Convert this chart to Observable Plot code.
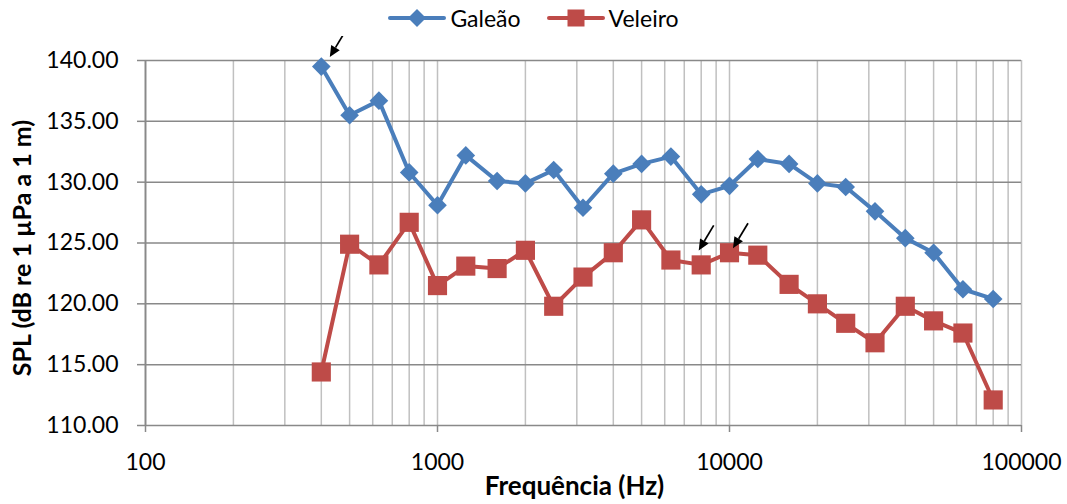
<!DOCTYPE html>
<html>
<head>
<meta charset="utf-8">
<script src="https://cdn.jsdelivr.net/npm/d3@7"></script>
<script src="https://cdn.jsdelivr.net/npm/@observablehq/plot@0.6"></script>
<style>
  body { margin: 0; background: #fff; font-family: Lato, "Open Sans", sans-serif; }
  #legend { height: 36px; display: flex; justify-content: center; align-items: center; gap: 26px; font-size: 23px; color: #000; }
  #legend .item { display: flex; align-items: center; gap: 4px; }
  #legend svg { display: block; }
</style>
</head>
<body>
<div id="legend"></div>
<div id="chart"></div>
<script>
// One-third-octave band centre frequencies (Hz)
const frequencies = [400, 500, 630, 800, 1000, 1250, 1600, 2000, 2500, 3150, 4000, 5000,
                     6300, 8000, 10000, 12500, 16000, 20000, 25000, 31500, 40000, 50000, 63000, 80000];

// Sound pressure level per band, dB re 1 µPa at 1 m
const galeao  = [139.5, 135.5, 136.7, 130.8, 128.1, 132.2, 130.1, 129.9, 131.0, 127.9, 130.7, 131.5,
                 132.1, 129.0, 129.7, 131.9, 131.5, 129.9, 129.6, 127.6, 125.4, 124.2, 121.2, 120.4];
const veleiro = [114.4, 124.9, 123.2, 126.7, 121.5, 123.1, 122.9, 124.4, 119.8, 122.2, 124.2, 126.9,
                 123.6, 123.2, 124.2, 124.0, 121.6, 120.0, 118.4, 116.8, 119.8, 118.6, 117.6, 112.1];

const seriesNames = ["Galeão", "Veleiro"];
const yTicks = [110, 115, 120, 125, 130, 135, 140];
const xTicks = [100, 1000, 10000, 100000];

// Bands flagged with an arrow
const marked = [
  {series: "Galeão", freq: 400},
  {series: "Veleiro", freq: 8000},
  {series: "Veleiro", freq: 10000}
];

const colors = {"Galeão": "#4a7ebb", "Veleiro": "#be4b48"};
const valuesOf = {"Galeão": galeao, "Veleiro": veleiro};
const seriesRows = s => frequencies.map((f, i) => ({series: s, freq: f, spl: valuesOf[s][i]}));
const galeaoRows = seriesRows("Galeão");
const veleiroRows = seriesRows("Veleiro");

// Light vertical grid at every 1..9 x 10^n between the decades
const minorTicks = d3.scaleLog().domain([100, 100000]).ticks();

// Legend
const legend = d3.select("#legend");
for (const s of seriesNames) {
  const item = legend.append("div").attr("class", "item");
  const svg = item.append("svg").attr("width", 58).attr("height", 22);
  svg.append("line").attr("x1", 2).attr("x2", 56).attr("y1", 11).attr("y2", 11)
    .attr("stroke", colors[s]).attr("stroke-width", 4).attr("stroke-linecap", "round");
  if (s === "Galeão") {
    svg.append("path").attr("d", "M29,2L38,11L29,20L20,11Z").attr("fill", colors[s]);
  } else {
    svg.append("rect").attr("x", 20.5).attr("y", 2.5).attr("width", 17).attr("height", 17).attr("fill", colors[s]);
  }
  item.append("span").text(s);
}

// Small black arrows pointing at the flagged bands
function arrows(index, scales) {
  const g = d3.create("svg:g");
  const tipOffsets = [[9, -9], [-2, -14], [4, -4]];
  const back = [15, -25];
  marked.forEach((m, i) => {
    const v = valuesOf[m.series][frequencies.indexOf(m.freq)];
    const px = scales.x(m.freq), py = scales.y(v);
    const tx = px + tipOffsets[i][0], ty = py + tipOffsets[i][1];
    const sx = tx + back[0], sy = ty + back[1];
    const len = Math.hypot(back[0], back[1]);
    const ux = -back[0] / len, uy = -back[1] / len; // direction tail -> tip
    const hl = 11, hw = 5;
    const bx = tx - ux * hl, by = ty - uy * hl;
    g.append("line").attr("x1", sx).attr("y1", sy).attr("x2", bx).attr("y2", by)
      .attr("stroke", "#000").attr("stroke-width", 1.7);
    g.append("path")
      .attr("d", `M${tx},${ty}L${bx - uy * hw},${by + ux * hw}L${bx + uy * hw},${by - ux * hw}Z`)
      .attr("fill", "#000");
  });
  return g.node();
}

const lineStyle = {x: "freq", y: "spl", strokeWidth: 4, strokeLinejoin: "round", strokeLinecap: "round"};

const chart = Plot.plot({
  width: 1067,
  height: 468,
  marginLeft: 145,
  marginRight: 46,
  marginTop: 24,
  marginBottom: 79,
  style: {fontFamily: "Lato, 'Open Sans', sans-serif", background: "#fff", color: "#000"},
  x: {type: "log", domain: [100, 100000]},
  y: {domain: [110, 140]},
  marks: [
    Plot.ruleX(minorTicks, {stroke: "#c0c0c0", strokeWidth: 1.5}),
    Plot.ruleY(yTicks, {stroke: "#898989", strokeWidth: 1.5}),
    Plot.ruleX([100], {stroke: "#898989", strokeWidth: 1.8}),
    Plot.axisY({ticks: yTicks, tickFormat: d => d.toFixed(2), tickSize: 8, tickPadding: 19,
                stroke: "#898989", strokeWidth: 1.5, fontSize: 23, label: null}),
    Plot.axisX({ticks: xTicks, tickFormat: d3.format("d"), tickSize: 7, tickPadding: 21,
                stroke: "#898989", strokeWidth: 1.5, fontSize: 23, label: null}),
    Plot.line(galeaoRows, {...lineStyle, stroke: colors["Galeão"]}),
    Plot.dot(galeaoRows, {x: "freq", y: "spl", fill: colors["Galeão"], stroke: null, symbol: "diamond2", r: 8.4}),
    Plot.line(veleiroRows, {...lineStyle, stroke: colors["Veleiro"]}),
    Plot.dot(veleiroRows, {x: "freq", y: "spl", fill: colors["Veleiro"], stroke: null, symbol: "square", r: 10.8}),
    arrows,
    Plot.text(["Frequência (Hz)"], {frameAnchor: "bottom", dx: -9, dy: 69, fontWeight: "bold", fontSize: 26, fill: "#000"}),
    Plot.text(["SPL (dB re 1 µPa a 1 m)"], {frameAnchor: "left", textAnchor: "middle", dx: -123, dy: 5, rotate: -90,
                                          fontWeight: "bold", fontSize: 25, fill: "#000"})
  ]
});
document.getElementById("chart").append(chart);
</script>
</body>
</html>
